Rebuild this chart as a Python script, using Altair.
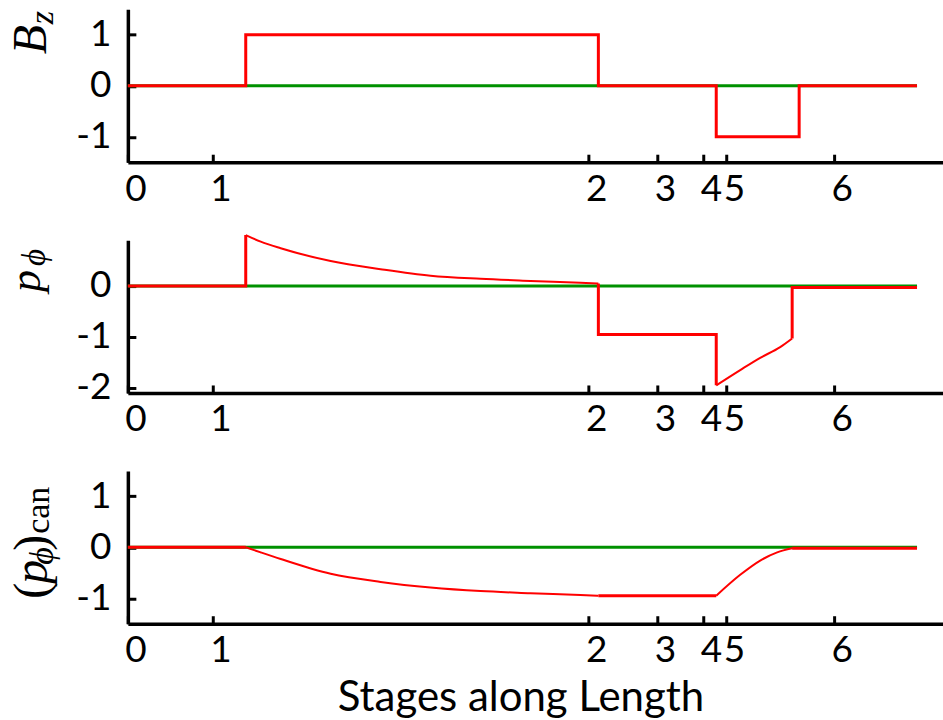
import altair as alt
import pandas as pd

# Stage boundaries along the length (x units) and their labels
stage_ticks = [0, 0.85, 4.61, 5.30, 5.76, 5.99, 7.07]
stage_labels = ["0", "1", "2", "3", "4", "5", "6"]
x_max = 8.16

# Reference line at zero
zero_x = [0, 7.90]
zero_y = [0, 0]

# B_z: piecewise constant field
bz_x = [0, 1.18, 1.18, 4.71, 4.71, 5.89, 5.89, 6.72, 6.72, 7.90]
bz_y = [0, 0, 1, 1, 0, 0, -1, -1, 0, 0]
bz_seg = [0] * 10

# p_phi: jumps (thick) and smooth stretches (thin)
pphi_step_x = [0, 1.18, 1.18, 4.71, 4.71, 5.89, 5.89, 6.65, 6.65, 7.90]
pphi_step_y = [0, 0, 1.0, 0.05, -0.95, -0.95, -1.95, -1.03, -0.03, -0.03]
pphi_step_seg = [0, 0, 0, 1, 1, 1, 1, 2, 2, 2]
pphi_curve_x = [1.18, 1.33, 1.53, 2.03, 2.53, 3.03, 3.53, 4.03, 4.53, 4.71,
                5.89, 6.13, 6.33, 6.53, 6.65]
pphi_curve_y = [1.0, 0.87, 0.74, 0.49, 0.33, 0.20, 0.14, 0.10, 0.065, 0.05,
                -1.95, -1.65, -1.41, -1.20, -1.03]
pphi_curve_seg = [0] * 10 + [1] * 5

# canonical p_phi
pcan_step_x = [0, 1.18, 4.71, 5.89, 6.65, 7.90]
pcan_step_y = [0, 0, -0.95, -0.95, -0.02, -0.02]
pcan_step_seg = [0, 0, 1, 1, 2, 2]
pcan_curve_x = [1.18, 1.33, 1.53, 2.03, 2.53, 3.03, 3.53, 4.03, 4.53, 4.71,
                5.89, 6.13, 6.33, 6.50, 6.65]
pcan_curve_y = [0, -0.10, -0.23, -0.52, -0.68, -0.79, -0.86, -0.90, -0.935, -0.95,
                -0.95, -0.54, -0.26, -0.10, -0.02]
pcan_curve_seg = [0] * 10 + [1] * 5

# y-axis ranges and tick values of the three panels
bz_domain, bz_ticks = [-1.5, 1.5], [-1, 0, 1]
pphi_domain, pphi_ticks = [-2.1, 0.9], [-2, -1, 0]
pcan_domain, pcan_ticks = [-1.5, 1.5], [-1, 0, 1]

W, H = 816, 153
RED, GREEN = "#ff0000", "#009100"
SANS = "Lato"
SERIF = "Liberation Serif"
LABEL_SIZE = 37


def frame(xs, ys, segs):
    return pd.DataFrame({"x": xs, "y": ys, "seg": segs, "i": list(range(len(xs)))})


label_js = "[" + ",".join('"%s"' % s for s in stage_labels) + "]"
tick_js = "[" + ",".join(str(v) for v in stage_ticks) + "]"


def x_axis(with_title):
    kw = dict(
        values=stage_ticks,
        labelExpr=f"{label_js}[indexof({tick_js}, datum.value)]",
        tickSize={"expr": "-8"},
        tickWidth=3,
        tickColor="black",
        domainWidth=3.5,
        domainColor="black",
        labelFont=SANS,
        labelFontSize=LABEL_SIZE,
        labelColor="black",
        labelAlign="left",
        labelBaseline="top",
        labelPadding=17,
        labelOffset=-3,
        labelFlush=False,
        labelOverlap=False,
        grid=False,
    )
    if with_title:
        kw.update(
            title="Stages along Length",
            titleFont=SANS,
            titleFontSize=42,
            titleFontWeight="normal",
            titleColor="black",
            titleX=393,
            titleY=87,
            titleBaseline="alphabetic",
            titleAlign="center",
        )
    else:
        kw["title"] = None
    return alt.Axis(**kw)


def y_axis(ticks):
    return alt.Axis(
        values=ticks,
        labelExpr="datum.value < 0 ? '-' + abs(datum.value) : '' + datum.value",
        tickSize={"expr": "-8"},
        tickWidth=3,
        tickColor="black",
        domainWidth=3.5,
        domainColor="black",
        labelFont=SANS,
        labelFontSize=LABEL_SIZE,
        labelColor="black",
        labelPadding=25,
        labelBaseline="middle",
        grid=False,
        title=None,
    )


def glyph(text, x, y, size, style):
    # one rotated piece of a typeset axis label (reads bottom to top)
    return alt.Chart(pd.DataFrame({"t": [text]})).mark_text(
        angle=270, align="left", baseline="alphabetic", font=SERIF,
        fontStyle=style, fontSize=size, color="black",
    ).encode(x=alt.value(x), y=alt.value(y), text="t:N")


def panel(domain, ticks, thick, thin, title_glyphs, with_title=False, anchor=False):
    xs = alt.Scale(domain=[0, x_max], nice=False, zero=False)
    ys = alt.Scale(domain=domain, nice=False, zero=False)
    base_x = alt.X("x:Q", scale=xs, axis=x_axis(with_title))
    base_y = alt.Y("y:Q", scale=ys, axis=y_axis(ticks))
    layers = [
        alt.Chart(frame(zero_x, zero_y, [0, 0])).mark_line(color=GREEN, strokeWidth=3)
        .encode(x=base_x, y=base_y, order="i:Q"),
        alt.Chart(thick).mark_line(color=RED, strokeWidth=3, strokeJoin="miter")
        .encode(x=alt.X("x:Q", scale=xs), y=alt.Y("y:Q", scale=ys),
                detail="seg:N", order="i:Q"),
    ]
    if thin is not None:
        layers.append(
            alt.Chart(thin).mark_line(color=RED, strokeWidth=2, interpolate="monotone")
            .encode(x=alt.X("x:Q", scale=xs), y=alt.Y("y:Q", scale=ys),
                    detail="seg:N", order="i:Q")
        )
    layers += title_glyphs
    if anchor:
        # white corner marker fixing the page origin relative to the plot
        layers.append(
            alt.Chart(pd.DataFrame({"a": [0]})).mark_rule(color="white", strokeWidth=0.5)
            .encode(x=alt.value(-127), x2=alt.value(-127), y=alt.value(-8), y2=alt.value(-7))
        )
    return alt.layer(*layers).properties(width=W, height=H)


p1 = panel(
    bz_domain, bz_ticks, frame(bz_x, bz_y, bz_seg), None,
    [glyph("B", -82, 45, 48, "italic"), glyph("z", -75, 15, 34, "italic")],
    anchor=True,
)
p2 = panel(
    pphi_domain, pphi_ticks,
    frame(pphi_step_x, pphi_step_y, pphi_step_seg),
    frame(pphi_curve_x, pphi_curve_y, pphi_curve_seg),
    [glyph("p", -88, 52, 44, "italic"), glyph("\u03d5", -83, 26, 33, "italic")],
)
p3 = panel(
    pcan_domain, pcan_ticks,
    frame(pcan_step_x, pcan_step_y, pcan_step_seg),
    frame(pcan_curve_x, pcan_curve_y, pcan_curve_seg),
    [
        glyph("(", -81, 128, 48, "normal"),
        glyph("p", -81, 113, 48, "italic"),
        glyph("\u03d5", -75, 94, 34, "italic"),
        glyph(")", -81, 80, 48, "normal"),
        glyph("can", -79, 63, 34, "normal"),
    ],
    with_title=True,
)

chart = (
    alt.vconcat(p1, p2, p3, spacing=78, bounds="flush")
    .properties(padding=0, background="white")
    .configure_view(stroke=None)
)

chart.save("out.html", embed_options={"renderer": "svg", "actions": False})
